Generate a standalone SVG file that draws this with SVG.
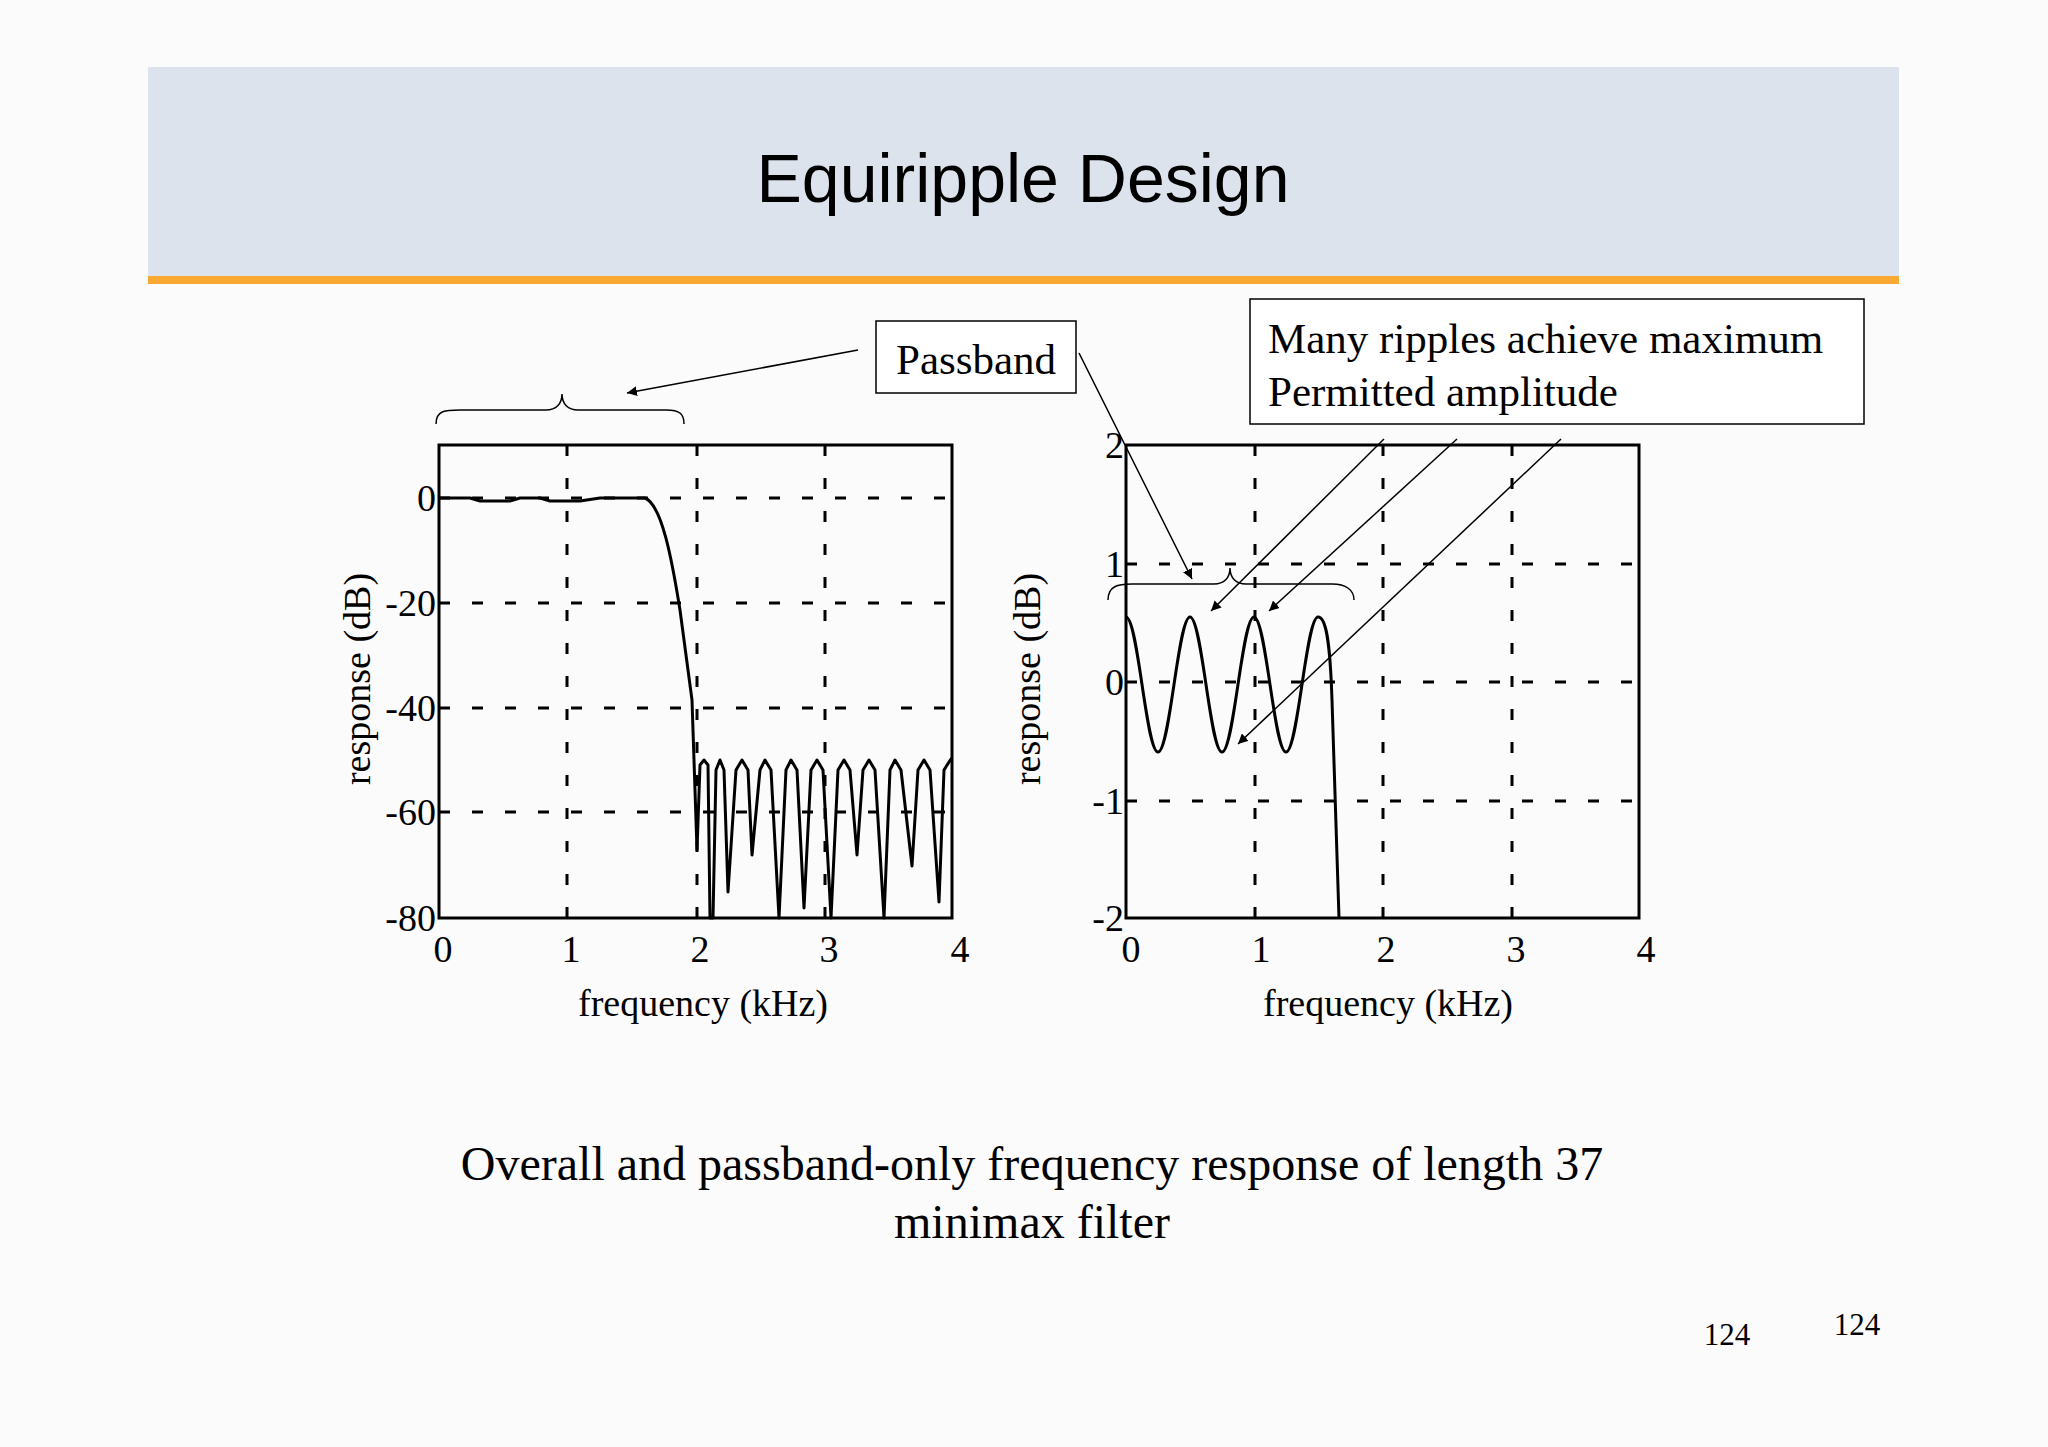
<svg xmlns="http://www.w3.org/2000/svg" width="2048" height="1447" viewBox="0 0 2048 1447">
<defs>
<marker id="ah" viewBox="0 0 10 10" refX="10" refY="5" markerWidth="10" markerHeight="10" markerUnits="userSpaceOnUse" orient="auto"><path d="M0,0 L10,5 L0,10 z" fill="#000"/></marker>
<style>
.grid{stroke:#000;stroke-width:3;stroke-dasharray:11 22;fill:none}
.frame{stroke:#000;stroke-width:3;fill:none}
.curve{stroke:#000;stroke-width:3;fill:none;stroke-linejoin:round}
.tick{font-family:"Liberation Serif",serif;font-size:38px;fill:#000}
.lbl{font-family:"Liberation Serif",serif;font-size:38px;fill:#000}
.box{fill:#fff;stroke:#000;stroke-width:1.5}
.note{font-family:"Liberation Serif",serif;font-size:43px;fill:#000}
.conn{stroke:#000;stroke-width:1.5;fill:none}
</style>
</defs>
<rect width="2048" height="1447" fill="#fbfbfb"/>
<g id="header">
<rect x="148" y="67" width="1751" height="209" fill="#dce3ec"/>
<rect x="148" y="276" width="1751" height="8" fill="#f9a932"/>
<text x="1023" y="202" text-anchor="middle" font-family="Liberation Sans,Arial,sans-serif" font-size="68">Equiripple Design</text>
</g>
<g id="left-plot">
<path class="grid" d="M567,445V918M697,445V918M825,445V918M439,498H952M439,603H952M439,708H952M439,812H952"/>
<rect class="frame" x="439" y="445" width="513" height="473"/>
<path class="curve" d="M439,498 L470,498 L480,501 L510,501 L520,498 L540,498 L550,501 L580,501 L600,498 L630,498 L645,498 C662,505 672,560 680,610 L692,700 L697,850 L700,765 L704,760 L708,765 L710,918 L713,918 L716,770 L720,760 L724,770 L728,892 L736,770 L742,760 L748,770 L752,855 L760,770 L765,760 L771,770 L779,918 L786,770 L791,760 L797,770 L804,908 L811,770 L817,760 L823,770 L831,918 L838,770 L844,760 L850,770 L857,855 L863,770 L869,760 L875,770 L884,918 L890,770 L895,760 L901,770 L912,866 L918,770 L924,760 L930,770 L939,902 L944,770 L949,762 L952,758"/>
<g class="tick" text-anchor="end">
<text x="436" y="511">0</text><text x="436" y="616">-20</text><text x="436" y="721">-40</text><text x="436" y="825">-60</text><text x="436" y="931">-80</text>
</g>
<g class="tick" text-anchor="middle">
<text x="443" y="962">0</text><text x="571" y="962">1</text><text x="700" y="962">2</text><text x="829" y="962">3</text><text x="960" y="962">4</text>
</g>
<text class="lbl" x="703" y="1016" text-anchor="middle">frequency (kHz)</text>
<text class="lbl" transform="translate(370,679) rotate(-90)" text-anchor="middle">response (dB)</text>
</g>
<g id="right-plot">
<path class="grid" d="M1255,445V918M1383,445V918M1512,445V918M1126,564H1639M1126,682H1639M1126,801H1639"/>
<rect class="frame" x="1126" y="445" width="513" height="473"/>
<path class="curve" d="M1126,617 C1138,617 1146,752 1158,752 C1170,752 1178,617 1190,617 C1202,617 1210,752 1222,752 C1234,752 1242,617 1254,617 C1266,617 1274,752 1286,752 C1298,752 1306,617 1318,617 C1326,617 1330,640 1332,700 L1339,918"/>
<g class="tick" text-anchor="end">
<text x="1124" y="458">2</text><text x="1124" y="577">1</text><text x="1124" y="695">0</text><text x="1124" y="814">-1</text><text x="1124" y="931">-2</text>
</g>
<g class="tick" text-anchor="middle">
<text x="1131" y="962">0</text><text x="1261" y="962">1</text><text x="1386" y="962">2</text><text x="1516" y="962">3</text><text x="1646" y="962">4</text>
</g>
<text class="lbl" x="1388" y="1016" text-anchor="middle">frequency (kHz)</text>
<text class="lbl" transform="translate(1040,679) rotate(-90)" text-anchor="middle">response (dB)</text>
</g>
<g id="passband-label">
<rect class="box" x="876" y="321" width="200" height="72"/>
<text class="note" x="976" y="374" text-anchor="middle">Passband</text>
</g>
<g id="ripples-label">
<rect class="box" x="1250" y="299" width="614" height="125"/>
<text class="note" x="1268" y="353">Many ripples achieve maximum</text>
<text class="note" x="1268" y="406">Permitted amplitude</text>
</g>
<g id="braces">
<path class="conn" d="M436,424 C436,410 446,410 460,410 L546,410 C556,410 562,404 562,394 C562,404 568,410 578,410 L666,410 C680,410 684,414 684,424"/>
<path class="conn" d="M1108,600 C1108,586 1118,584 1132,584 L1214,584 C1224,584 1230,578 1230,568 C1230,578 1236,584 1246,584 L1332,584 C1346,584 1354,590 1354,600"/>
</g>
<g id="connectors">
<line class="conn" x1="858" y1="350" x2="627" y2="393" marker-end="url(#ah)"/>
<line class="conn" x1="1079" y1="353" x2="1192" y2="579" marker-end="url(#ah)"/>
<line class="conn" x1="1384" y1="439" x2="1211" y2="611" marker-end="url(#ah)"/>
<line class="conn" x1="1457" y1="439" x2="1269" y2="611" marker-end="url(#ah)"/>
<line class="conn" x1="1561" y1="439" x2="1238" y2="744" marker-end="url(#ah)"/>
</g>
<g id="caption" font-family="Liberation Serif,serif" font-size="48" text-anchor="middle">
<text x="1032" y="1180">Overall and passband-only frequency response of length 37</text>
<text x="1032" y="1238">minimax filter</text>
</g>
<g font-family="Liberation Serif,serif" font-size="31" text-anchor="middle">
<text x="1727" y="1345">124</text>
<text x="1857" y="1335">124</text>
</g>
</svg>
